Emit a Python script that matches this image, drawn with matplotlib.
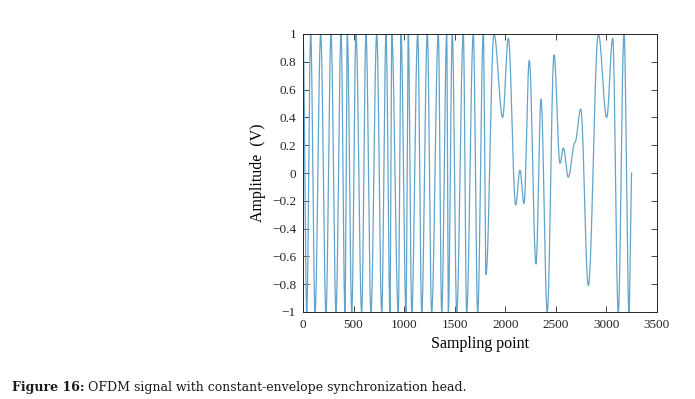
import numpy as np
import matplotlib
matplotlib.use("Agg")
import matplotlib.pyplot as plt
from matplotlib.ticker import FixedLocator, FixedFormatter

# Extrema / key points (sample index, amplitude)
key_x = [0, 37, 76, 119, 175, 227, 277, 326, 376, 415, 438, 482, 524, 580, 623,
         672, 729, 778, 821, 860, 877, 942, 969, 1018, 1041, 1075, 1134, 1174,
         1229, 1272, 1338, 1371, 1421, 1437, 1476, 1520, 1585, 1618, 1684, 1727,
         1783, 1809, 1888, 1974, 2030, 2103, 2145, 2185, 2237, 2304, 2353, 2415,
         2482, 2541, 2574, 2623, 2689, 2746, 2821, 2920, 3003, 3062, 3117, 3174,
         3223, 3250]
key_y = [1, -1, 1, -1, 1, -1, 1, -1, 1, -1, 1, -1, 1, -1, 1,
         -1, 1, -1, 1, -1, 1, -1, 1, -1, 1, -1, 1, -1,
         1, -1, 1, -1, 1, -1, 1, -1, 1, -1, 1, -1,
         1, -0.73, 1.0, 0.40, 0.97, -0.23, 0.02, -0.22, 0.81, -0.655, 0.53, -1.0,
         0.85, 0.07, 0.18, -0.03, 0.22, 0.46, -0.81, 1.0, 0.40, 0.97, -1.0, 1.0,
         -1.0, 0.0]

xticks = [0, 500, 1000, 1500, 2000, 2500, 3000, 3500]
yticks = [-1, -0.8, -0.6, -0.4, -0.2, 0, 0.2, 0.4, 0.6, 0.8, 1]
ytick_labels = ["\u22121", "\u22120.8", "\u22120.6", "\u22120.4", "\u22120.2", "0",
                "0.2", "0.4", "0.6", "0.8", "1"]

# smooth half-cosine transitions between consecutive key points
xs, ys = [], []
for i in range(len(key_x) - 1):
    x0, x1 = key_x[i], key_x[i + 1]
    y0, y1 = key_y[i], key_y[i + 1]
    t = np.linspace(0, 1, 40, endpoint=False)
    xs.append(x0 + (x1 - x0) * t)
    ys.append(y0 + (y1 - y0) * (1 - np.cos(np.pi * t)) / 2)
xs.append([key_x[-1]]); ys.append([key_y[-1]])
xs = np.concatenate(xs); ys = np.concatenate(ys)

plt.rcParams['font.family'] = ['Liberation Serif', 'DejaVu Serif']
fig = plt.figure(figsize=(6.95, 3.99), dpi=100)
ax = fig.add_axes([303/695, 1 - 312/399, (657 - 303)/695, (312 - 34)/399])
ax.plot(xs, ys, color='#62a4cc', lw=0.9)
ax.set_xlim(0, 3500)
ax.set_ylim(-1, 1)
ax.xaxis.set_major_locator(FixedLocator(xticks))
ax.yaxis.set_major_locator(FixedLocator(yticks))
ax.yaxis.set_major_formatter(FixedFormatter(ytick_labels))
ax.tick_params(direction='in', top=True, right=True, length=4, width=0.6,
               labelsize=9.5, colors='#262626', pad=5)
for s in ax.spines.values():
    s.set_color('#262626'); s.set_linewidth(0.7)
ax.set_xlabel('Sampling point', fontsize=11.5, labelpad=4)
ax.set_ylabel('Amplitude  (V)', fontsize=11.5, labelpad=4)

cap_font = ['DejaVu Serif']
t1 = fig.text(12/695, 1 - 387/399, 'Figure 16:', fontsize=9.0, fontweight='bold',
              va='center', ha='left', color='#1a1a1a', family=cap_font)
fig.canvas.draw()
bb = t1.get_window_extent()
fig.text((bb.x1 + 4) / 695, 1 - 387/399, 'OFDM signal with constant-envelope synchronization head.',
         fontsize=9.0, va='center', ha='left', color='#1a1a1a', family=cap_font)
fig.savefig('out.png', dpi=100)
